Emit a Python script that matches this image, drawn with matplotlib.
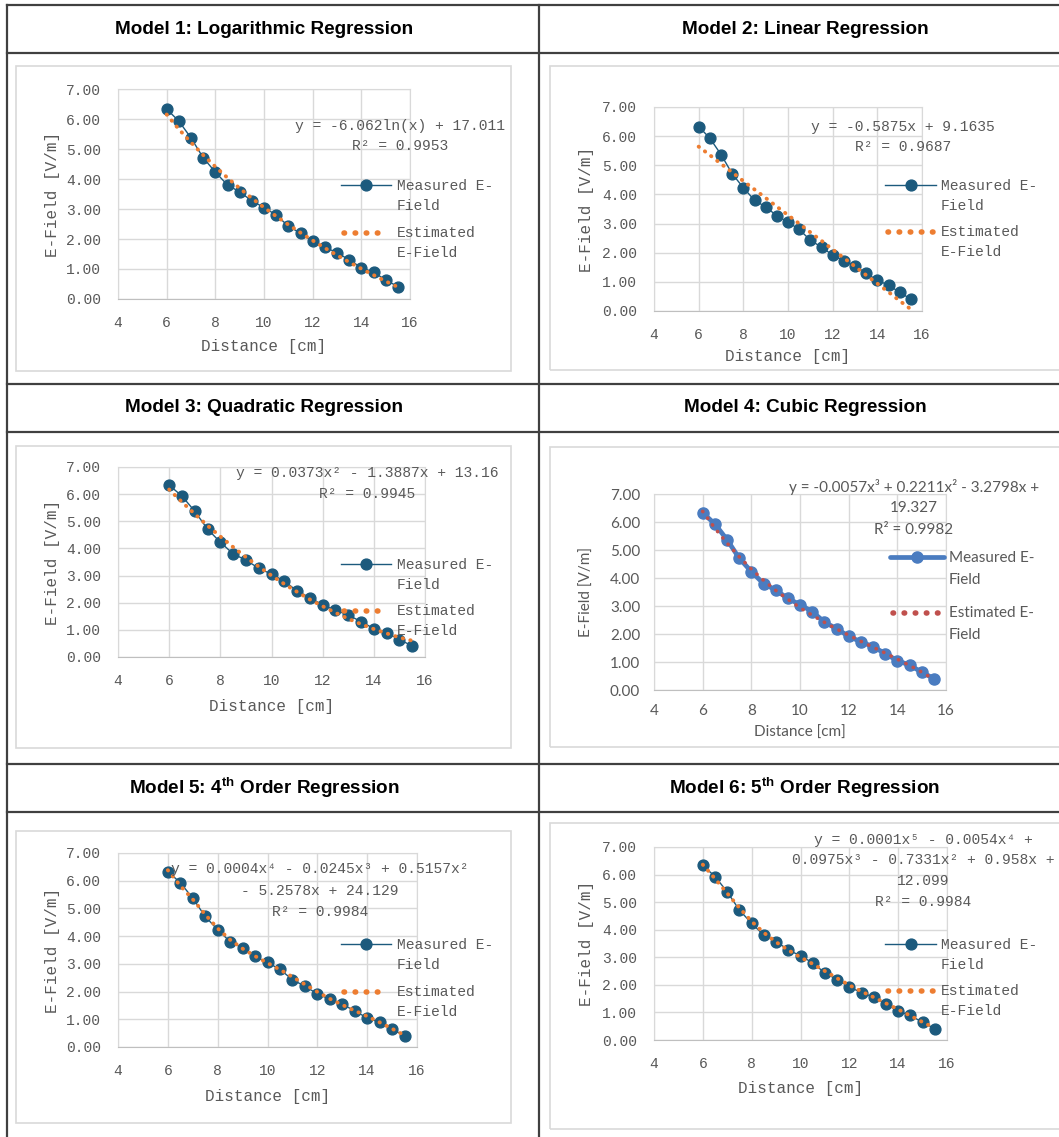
import numpy as np
import matplotlib
matplotlib.use("Agg")
import matplotlib.pyplot as plt
from matplotlib.lines import Line2D
from matplotlib.patches import Rectangle

plt.rcParams['mathtext.fontset'] = 'custom'
plt.rcParams['mathtext.bf'] = 'Liberation Sans:bold'
plt.rcParams['mathtext.rm'] = 'Liberation Sans:bold'

# measured data (same in every panel)
distance = [6.0, 6.5, 7.0, 7.5, 8.0, 8.5, 9.0, 9.5, 10.0, 10.5,
            11.0, 11.5, 12.0, 12.5, 13.0, 13.5, 14.0, 14.5, 15.0, 15.5]
measured = [6.33, 5.93, 5.37, 4.71, 4.23, 3.80, 3.57, 3.27, 3.05, 2.80,
            2.43, 2.19, 1.92, 1.72, 1.55, 1.30, 1.05, 0.89, 0.64, 0.41]

# estimated E-field per model
est_log = [6.15, 5.66, 5.22, 4.80, 4.41, 4.04, 3.69, 3.36, 3.05, 2.76,
           2.48, 2.21, 1.95, 1.70, 1.46, 1.23, 1.01, 0.80, 0.59, 0.40]
est_lin = [5.64, 5.35, 5.05, 4.76, 4.46, 4.17, 3.88, 3.58, 3.29, 3.00,
           2.70, 2.41, 2.11, 1.82, 1.53, 1.23, 0.94, 0.65, 0.35, 0.06]
est_quad = [6.17, 5.71, 5.27, 4.84, 4.44, 4.05, 3.68, 3.33, 3.00, 2.69,
            2.40, 2.12, 1.87, 1.63, 1.41, 1.21, 1.03, 0.87, 0.72, 0.60]
est_cub = [6.38, 5.78, 5.25, 4.76, 4.32, 3.92, 3.56, 3.24, 2.94, 2.67,
           2.42, 2.18, 1.96, 1.74, 1.53, 1.32, 1.10, 0.88, 0.64, 0.38]
est_4th = [6.38, 5.82, 5.33, 4.78, 4.28, 3.87, 3.55, 3.28, 3.03, 2.79,
           2.53, 2.26, 1.99, 1.74, 1.52, 1.31, 1.11, 0.89, 0.66, 0.42]
est_5th = [6.36, 5.85, 5.32, 4.79, 4.30, 3.89, 3.55, 3.26, 3.00, 2.76,
           2.50, 2.24, 1.99, 1.76, 1.55, 1.33, 1.11, 0.88, 0.65, 0.43]

titles = [
    "Model 1: Logarithmic Regression",
    "Model 2: Linear Regression",
    "Model 3: Quadratic Regression",
    "Model 4: Cubic Regression",
    r"Model 5: 4$^{\mathbf{th}}$ Order Regression",
    r"Model 6: 5$^{\mathbf{th}}$ Order Regression",
]
equations = [
    ["y = -6.062ln(x) + 17.011", "R² = 0.9953"],
    ["y = -0.5875x + 9.1635", "R² = 0.9687"],
    ["y = 0.0373x² - 1.3887x + 13.16", "R² = 0.9945"],
    ["y = -0.0057x³ + 0.2211x² - 3.2798x +", "19.327", "R² = 0.9982"],
    ["y = 0.0004x⁴ - 0.0245x³ + 0.5157x²", "- 5.2578x + 24.129", "R² = 0.9984"],
    ["y = 0.0001x⁵ - 0.0054x⁴ +", "0.0975x³ - 0.7331x² + 0.958x +", "12.099", "R² = 0.9984"],
]
estimates = [est_log, est_lin, est_quad, est_cub, est_4th, est_5th]

x_ticks = [4, 6, 8, 10, 12, 14, 16]
y_ticks = [0, 1, 2, 3, 4, 5, 6, 7]

# layout in pixels (left, top, right, bottom)
W, H = 1059, 1137
layout = [
    dict(title=(264, 30), box=(16, 66, 511, 371), ax=(118, 89, 410, 299),
         eq_x=400, eq_y=[126, 146], leg=(341, 391, 397, 185, 233, 20),
         xlab_y=347, ylab_x=53),
    dict(title=(805, 30), box=(550, 66, 1075, 370), ax=(654, 107, 922, 311),
         eq_x=903, eq_y=[127, 147], leg=(885, 936, 941, 185, 232, 20),
         xlab_y=357, ylab_x=587),
    dict(title=(264, 408), box=(16, 446, 511, 748), ax=(118, 467, 425, 657),
         eq_x=367, eq_y=[473, 494], leg=(341, 391, 397, 564, 611, 20),
         xlab_y=706, ylab_x=53),
    dict(title=(805, 408), box=(550, 447, 1075, 747), ax=(654, 494, 946, 690),
         eq_x=914, eq_y=[487, 508, 530], leg=(890, 944, 949, 557, 613, 22),
         xlab_y=733, ylab_x=587),
    dict(title=(264, 788), box=(16, 831, 511, 1123), ax=(118, 853, 417, 1047),
         eq_x=320, eq_y=[869, 891, 912], leg=(341, 391, 397, 944, 992, 20),
         xlab_y=1096, ylab_x=53),
    dict(title=(805, 788), box=(550, 823, 1075, 1129), ax=(654, 847, 947, 1040),
         eq_x=923, eq_y=[840, 860, 881, 902], leg=(885, 936, 941, 944, 991, 20),
         xlab_y=1088, ylab_x=587),
]

fig = plt.figure(figsize=(W / 100, H / 100), dpi=100)


def fy(y):
    return 1 - y / H


def hline(x0, x1, y, **kw):
    fig.add_artist(Line2D([x0 / W, x1 / W], [fy(y), fy(y)], transform=fig.transFigure, **kw))


def vline(x, y0, y1, **kw):
    fig.add_artist(Line2D([x / W, x / W], [fy(y0), fy(y1)], transform=fig.transFigure, **kw))


# table grid
tbl = dict(color="#404040", lw=1.6)
for y in [5, 53, 384, 432, 764, 812]:
    hline(7, W, y, **tbl)
vline(7, 5, H, **tbl)
vline(538.7, 5, H, **tbl)

mono = ["Liberation Mono", "DejaVu Sans Mono"]
sans = ["Lato", "DejaVu Sans"]
grey = "#595959"

for i, L in enumerate(layout):
    cubic = (i == 3)
    fam = sans if cubic else mono
    fs = 11 if cubic else 10.5
    c_meas = "#4A7CC0" if cubic else "#1C5A7D"
    c_est = "#C0504D" if cubic else "#ED7D31"

    fig.text(L["title"][0] / W, fy(L["title"][1]), titles[i], ha="center", va="center",
             fontsize=13.6, fontweight="bold", family="Liberation Sans", color="black")

    bx0, by0, bx1, by1 = L["box"]
    fig.add_artist(Rectangle((bx0 / W, fy(by1)), (bx1 - bx0) / W, (by1 - by0) / H,
                             transform=fig.transFigure, fill=False, ec="#D9D9D9", lw=1.2))

    l, t, r, b = L["ax"]
    ax = fig.add_axes([l / W, fy(b), (r - l) / W, (b - t) / H])
    if cubic:
        ax.plot(distance, measured, color=c_meas, lw=3.4, marker="o", ms=8, zorder=2)
        ax.plot(distance, estimates[i], color=c_est, lw=2.6, linestyle=(0, (0.1, 2.2)),
                dash_capstyle="round", zorder=3)
    else:
        ax.plot(distance, measured, color=c_meas, lw=1.0, marker="o", ms=7.8, zorder=2)
        ax.plot(distance, estimates[i], color=c_est, lw=2.8, linestyle=(0, (0.1, 1.9)),
                dash_capstyle="round", zorder=3)

    ax.set_xlim(4, 16)
    ax.set_ylim(0, 7)
    ax.set_xticks(x_ticks)
    ax.set_yticks(y_ticks)
    ax.set_xticklabels([str(v) for v in x_ticks], family=fam, fontsize=fs, color=grey)
    ax.set_yticklabels([f"{v:.2f}" for v in y_ticks], family=fam, fontsize=fs, color=grey)
    ax.tick_params(length=0, pad=12 if not cubic else 10)
    ax.grid(True, color="#D9D9D9", lw=1.0)
    ax.set_axisbelow(True)
    for s in ax.spines.values():
        s.set_color("#D9D9D9")
    ax.spines["bottom"].set_color("#BFBFBF")

    cx = (l + r) / 2
    cy = (t + b) / 2
    fig.text(cx / W, fy(L["xlab_y"]), "Distance [cm]", ha="center", va="center",
             family=fam, fontsize=11.5 if not cubic else 11, color=grey)
    fig.text(L["ylab_x"] / W, fy(cy), "E-Field [V/m]", ha="center", va="center",
             rotation=90, family=fam, fontsize=11.5 if not cubic else 11, color=grey)

    for line, y in zip(equations[i], L["eq_y"]):
        fig.text(L["eq_x"] / W, fy(y), line, ha="center", va="center",
                 family=fam, fontsize=fs, color=grey)

    # legend
    lx0, lx1, tx, ym, ye, dy = L["leg"]
    if cubic:
        fig.add_artist(Line2D([lx0 / W, lx1 / W], [fy(ym), fy(ym)], transform=fig.transFigure,
                              color=c_meas, lw=3.4, solid_capstyle="round"))
        fig.add_artist(Line2D([(lx0 + lx1) / 2 / W], [fy(ym)], transform=fig.transFigure,
                              color=c_meas, marker="o", ms=8))
        m_lines = ["Measured E-", "Field"]
        e_lines = ["Estimated E-", "Field"]
    else:
        fig.add_artist(Line2D([lx0 / W, lx1 / W], [fy(ym), fy(ym)], transform=fig.transFigure,
                              color=c_meas, lw=1.0))
        fig.add_artist(Line2D([(lx0 + lx1) / 2 / W], [fy(ym)], transform=fig.transFigure,
                              color=c_meas, marker="o", ms=7.8))
        m_lines = ["Measured E-", "Field"]
        e_lines = ["Estimated", "E-Field"]
    fig.add_artist(Line2D([(lx0 + 3) / W, (lx1 - 3) / W], [fy(ye), fy(ye)], transform=fig.transFigure,
                          color=c_est, lw=4.0, linestyle=(0, (0.1, 1.9)), dash_capstyle="round"))
    for k, s in enumerate(m_lines):
        fig.text(tx / W, fy(ym + 1 + k * dy), s, ha="left", va="center",
                 family=fam, fontsize=fs, color=grey)
    for k, s in enumerate(e_lines):
        fig.text(tx / W, fy(ye + k * dy), s, ha="left", va="center",
                 family=fam, fontsize=fs, color=grey)

fig.savefig("out.png", dpi=100, facecolor="white")
